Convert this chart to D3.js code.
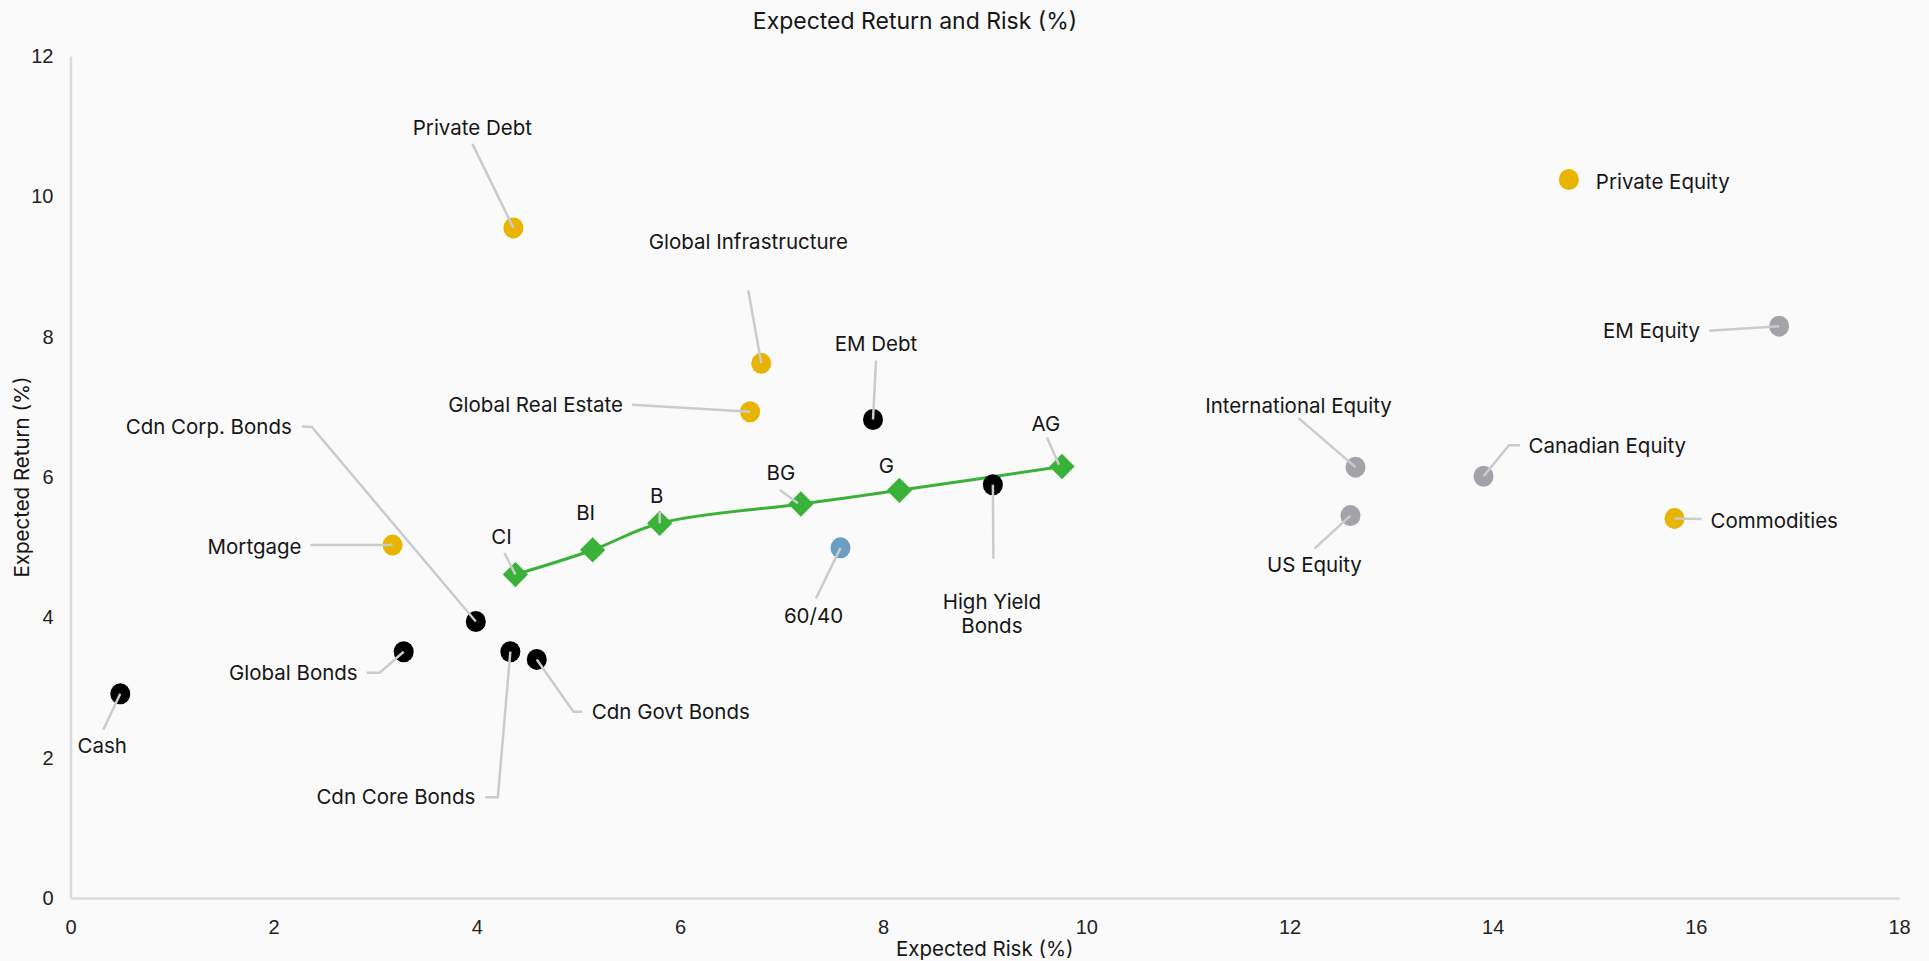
<!DOCTYPE html>
<html>
<head>
<meta charset="utf-8">
<script src="https://cdn.jsdelivr.net/npm/d3@7"></script>
<style>
    html, body { margin: 0; padding: 0; background: #fafafa; }
    svg { display: block; font-family: Inter, "Noto Sans", sans-serif; font-weight: 400; }
    .lbl { font-size: 20.5px; fill: #161616; }
    .tick-lbl { font-size: 20px; fill: #222222; }
    .leader { fill: none; stroke: #c9cbce; stroke-width: 2.5; }
</style>
</head>
<body>
<svg id="chart" width="1929" height="961"></svg>
<script>
/*global d3 */
"use strict";

// asset classes
var assets = ["Cash", "Global Bonds", "Cdn Corp. Bonds", "Cdn Core Bonds", "Cdn Govt Bonds",
    "Mortgage", "Private Debt", "Global Infrastructure", "Global Real Estate", "EM Debt",
    "High Yield Bonds", "60/40", "International Equity", "US Equity", "Canadian Equity",
    "Commodities", "EM Equity", "Private Equity"];
var assetRisk = [0.49, 3.28, 3.99, 4.33, 4.59, 3.17, 4.36, 6.80, 6.69, 7.90,
    9.08, 7.58, 12.65, 12.60, 13.91, 15.79, 16.82, 14.75];
var assetReturn = [2.91, 3.51, 3.94, 3.51, 3.40, 5.03, 9.55, 7.62, 6.93, 6.82,
    5.89, 4.99, 6.14, 5.45, 6.01, 5.41, 8.15, 10.24];
var assetGroup = ["fixed", "fixed", "fixed", "fixed", "fixed", "alt", "alt", "alt", "alt", "fixed",
    "fixed", "mix", "equity", "equity", "equity", "alt", "equity", "alt"];

// efficient frontier portfolios
var frontier = ["CI", "BI", "B", "BG", "G", "AG"];
var frontierRisk = [4.38, 5.14, 5.80, 7.19, 8.16, 9.76];
var frontierReturn = [4.61, 4.96, 5.34, 5.615, 5.81, 6.15];

var xTicks = [0, 2, 4, 6, 8, 10, 12, 14, 16, 18];
var yTicks = [0, 2, 4, 6, 8, 10, 12];

var groupColor = {fixed: "#000000", alt: "#e8b400", mix: "#6b9ec3", equity: "#a2a2a8"};
var green = "#3ab23a";

// label placement relative to the marker (px): text offset, anchor, leader path
var layout = {
    "Cash": {dx: -18, dy: 52, a: "middle", path: [[-17, 36], [0, 0]]},
    "Global Bonds": {dx: -46, dy: 21, a: "end", path: [[-37, 21], [-24, 21], [0, 0]]},
    "Cdn Corp. Bonds": {dx: -184, dy: -195, a: "end", path: [[-174, -195], [-164, -194.5], [0, 0]]},
    "Cdn Core Bonds": {dx: -35, dy: 145, a: "end", path: [[-25, 145.5], [-12.5, 145.5], [0, 0]]},
    "Cdn Govt Bonds": {dx: 55, dy: 52, a: "start", path: [[0, 0], [36.7, 52.4], [45.6, 52.4]]},
    "Mortgage": {dx: -91, dy: 1, a: "end", path: [[-82, 0], [0, 0]]},
    "Private Debt": {dx: -41, dy: -100, a: "middle", path: [[-41, -84], [0, 0]]},
    "Global Infrastructure": {dx: -13, dy: -122, a: "middle", path: [[-13, -73], [0, 0]]},
    "Global Real Estate": {dx: -127, dy: -7, a: "end", path: [[-118, -7], [0, 0]]},
    "EM Debt": {dx: 3, dy: -76, a: "middle", path: [[3, -59], [0, 0]]},
    "High Yield Bonds": {dx: -1, dy: 117, a: "middle", lines: ["High Yield", "Bonds"], path: [[0, 0], [0.5, 74]]},
    "60/40": {dx: -27, dy: 68, a: "middle", path: [[-24.6, 50.6], [0, 0]]},
    "International Equity": {dx: -57, dy: -62, a: "middle", path: [[-57, -49], [0, 0]]},
    "US Equity": {dx: -36, dy: 49, a: "middle", path: [[-36, 33], [0, 0]]},
    "Canadian Equity": {dx: 45, dy: -31, a: "start", path: [[0, 0], [25.5, -31], [36.6, -31]]},
    "Commodities": {dx: 36, dy: 2, a: "start", path: [[0, 0], [27, 0.7]]},
    "EM Equity": {dx: -79, dy: 4, a: "end", path: [[-70, 4.7], [0, 0]]},
    "Private Equity": {dx: 27, dy: 2, a: "start", path: null}
};
var frontierLayout = {
    "CI": {dx: -14, dy: -38, path: [[-11, -21.6], [0, 0]]},
    "BI": {dx: -7, dy: -37, path: null},
    "B": {dx: -3, dy: -28, path: [[0, -11.6], [0, 0]]},
    "BG": {dx: -20, dy: -32, path: [[-21, -14], [-3, -0.7]]},
    "G": {dx: -13, dy: -25, path: null},
    "AG": {dx: -16, dy: -43, path: [[-15, -29], [-3, -1.7]]}
};

var margin = {left: 70.5, right: 1899, top: 56, bottom: 898};
var svg = d3.select("#chart");

var x = d3.scaleLinear().domain([0, 18]).range([margin.left, margin.right]);
var y = d3.scaleLinear().domain([0, 12]).range([margin.bottom, margin.top]);

function leaderPath(px, py, pts) {
    return d3.line()(pts.map(function (p) { return [px + p[0], py + p[1]]; }));
}

function drawAxes() {
    var axisColor = "#d9dbde";
    var xAxis = svg.append("g").attr("transform", "translate(0," + margin.bottom + ")")
        .call(d3.axisBottom(x).tickValues(xTicks).tickSize(0).tickPadding(22));
    var yAxis = svg.append("g").attr("transform", "translate(" + margin.left + ",0)")
        .call(d3.axisLeft(y).tickValues(yTicks).tickSize(0).tickPadding(17));
    [xAxis, yAxis].forEach(function (g) {
        g.select(".domain").attr("stroke", axisColor).attr("stroke-width", 2.5);
        g.selectAll("text").attr("class", "tick-lbl").attr("font-family", null).attr("font-size", null);
    });

    svg.append("text").attr("class", "lbl")
        .attr("x", 915).attr("y", 21).attr("text-anchor", "middle").attr("dominant-baseline", "central")
        .style("font-size", "23px").text("Expected Return and Risk (%)");
    svg.append("text").attr("class", "lbl")
        .attr("x", (margin.left + margin.right) / 2).attr("y", 948)
        .attr("text-anchor", "middle").attr("dominant-baseline", "central").text("Expected Risk (%)");
    svg.append("text").attr("class", "lbl")
        .attr("transform", "translate(21," + ((margin.top + margin.bottom) / 2) + ") rotate(-90)")
        .attr("text-anchor", "middle").attr("dominant-baseline", "central").text("Expected Return (%)");
}

function drawFrontier() {
    var pts = frontier.map(function (f, i) { return [x(frontierRisk[i]), y(frontierReturn[i])]; });
    svg.append("path")
        .attr("d", d3.line().curve(d3.curveCatmullRom.alpha(0.5))(pts))
        .attr("fill", "none").attr("stroke", green).attr("stroke-width", 3);
}

function drawAssets() {
    var g = svg.append("g");
    assets.forEach(function (name, i) {
        g.append("ellipse")
            .attr("cx", x(assetRisk[i])).attr("cy", y(assetReturn[i]))
            .attr("rx", 10).attr("ry", 10.5)
            .attr("fill", groupColor[assetGroup[i]]);
    });
    frontier.forEach(function (f, i) {
        g.append("path")
            .attr("d", d3.symbol(d3.symbolSquare, 320)())
            .attr("transform", "translate(" + x(frontierRisk[i]) + "," + y(frontierReturn[i]) + ") rotate(45)")
            .attr("fill", green);
    });
}

function drawLabels() {
    var g = svg.append("g");
    assets.forEach(function (name, i) {
        var px = x(assetRisk[i]), py = y(assetReturn[i]), l = layout[name];
        if (l.path) {
            g.append("path").attr("class", "leader").attr("d", leaderPath(px, py, l.path));
        }
        var lines = l.lines || [name];
        lines.forEach(function (t, k) {
            g.append("text").attr("class", "lbl")
                .attr("x", px + l.dx).attr("y", py + l.dy + k * 24)
                .attr("text-anchor", l.a).attr("dominant-baseline", "central")
                .text(t);
        });
    });
    frontier.forEach(function (f, i) {
        var px = x(frontierRisk[i]), py = y(frontierReturn[i]), l = frontierLayout[f];
        if (l.path) {
            g.append("path").attr("class", "leader").attr("d", leaderPath(px, py, l.path));
        }
        g.append("text").attr("class", "lbl")
            .attr("x", px + l.dx).attr("y", py + l.dy)
            .attr("text-anchor", "middle").attr("dominant-baseline", "central")
            .text(f);
    });
}

drawAxes();
drawFrontier();
drawAssets();
drawLabels();
</script>
</body>
</html>
